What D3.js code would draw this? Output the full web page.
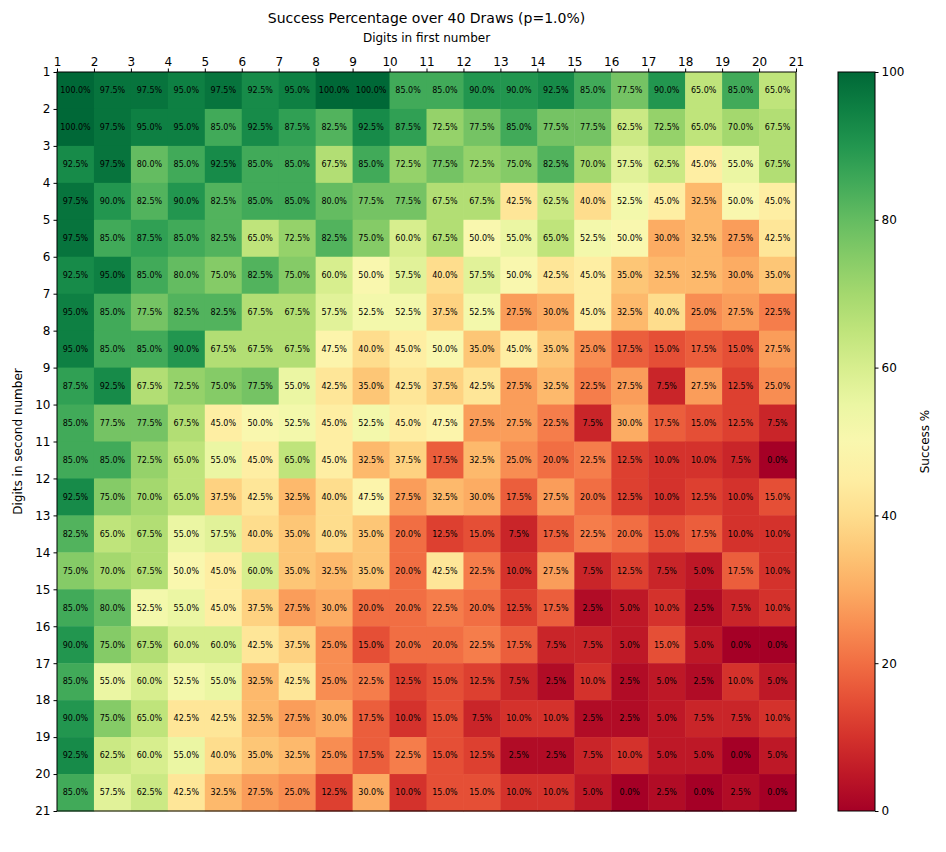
<!DOCTYPE html>
<html><head><meta charset="UTF-8">
<script src="https://d3js.org/d3.v7.min.js"></script>
<style>body{margin:0;font-family:"DejaVu Sans",sans-serif;background:#fff}</style>
</head><body><svg width="946" height="852"></svg>
<script>
const digits = d3.range(1, 21);
const ticks = d3.range(1, 22);
const success = [
[100.0,97.5,97.5,95.0,97.5,92.5,95.0,100.0,100.0,85.0,85.0,90.0,90.0,92.5,85.0,77.5,90.0,65.0,85.0,65.0],
[100.0,97.5,95.0,95.0,85.0,92.5,87.5,82.5,92.5,87.5,72.5,77.5,85.0,77.5,77.5,62.5,72.5,65.0,70.0,67.5],
[92.5,97.5,80.0,85.0,92.5,85.0,85.0,67.5,85.0,72.5,77.5,72.5,75.0,82.5,70.0,57.5,62.5,45.0,55.0,67.5],
[97.5,90.0,82.5,90.0,82.5,85.0,85.0,80.0,77.5,77.5,67.5,67.5,42.5,62.5,40.0,52.5,45.0,32.5,50.0,45.0],
[97.5,85.0,87.5,85.0,82.5,65.0,72.5,82.5,75.0,60.0,67.5,50.0,55.0,65.0,52.5,50.0,30.0,32.5,27.5,42.5],
[92.5,95.0,85.0,80.0,75.0,82.5,75.0,60.0,50.0,57.5,40.0,57.5,50.0,42.5,45.0,35.0,32.5,32.5,30.0,35.0],
[95.0,85.0,77.5,82.5,82.5,67.5,67.5,57.5,52.5,52.5,37.5,52.5,27.5,30.0,45.0,32.5,40.0,25.0,27.5,22.5],
[95.0,85.0,85.0,90.0,67.5,67.5,67.5,47.5,40.0,45.0,50.0,35.0,45.0,35.0,25.0,17.5,15.0,17.5,15.0,27.5],
[87.5,92.5,67.5,72.5,75.0,77.5,55.0,42.5,35.0,42.5,37.5,42.5,27.5,32.5,22.5,27.5,7.5,27.5,12.5,25.0],
[85.0,77.5,77.5,67.5,45.0,50.0,52.5,45.0,52.5,45.0,47.5,27.5,27.5,22.5,7.5,30.0,17.5,15.0,12.5,7.5],
[85.0,85.0,72.5,65.0,55.0,45.0,65.0,45.0,32.5,37.5,17.5,32.5,25.0,20.0,22.5,12.5,10.0,10.0,7.5,0.0],
[92.5,75.0,70.0,65.0,37.5,42.5,32.5,40.0,47.5,27.5,32.5,30.0,17.5,27.5,20.0,12.5,10.0,12.5,10.0,15.0],
[82.5,65.0,67.5,55.0,57.5,40.0,35.0,40.0,35.0,20.0,12.5,15.0,7.5,17.5,22.5,20.0,15.0,17.5,10.0,10.0],
[75.0,70.0,67.5,50.0,45.0,60.0,35.0,32.5,35.0,20.0,42.5,22.5,10.0,27.5,7.5,12.5,7.5,5.0,17.5,10.0],
[85.0,80.0,52.5,55.0,45.0,37.5,27.5,30.0,20.0,20.0,22.5,20.0,12.5,17.5,2.5,5.0,10.0,2.5,7.5,10.0],
[90.0,75.0,67.5,60.0,60.0,42.5,37.5,25.0,15.0,20.0,20.0,22.5,17.5,7.5,7.5,5.0,15.0,5.0,0.0,0.0],
[85.0,55.0,60.0,52.5,55.0,32.5,42.5,25.0,22.5,12.5,15.0,12.5,7.5,2.5,10.0,2.5,5.0,2.5,10.0,5.0],
[90.0,75.0,65.0,42.5,42.5,32.5,27.5,30.0,17.5,10.0,15.0,7.5,10.0,10.0,2.5,2.5,5.0,7.5,7.5,10.0],
[92.5,62.5,60.0,55.0,40.0,35.0,32.5,25.0,17.5,22.5,15.0,12.5,2.5,2.5,7.5,10.0,5.0,5.0,0.0,5.0],
[85.0,57.5,62.5,42.5,32.5,27.5,25.0,12.5,30.0,10.0,15.0,15.0,10.0,10.0,5.0,0.0,2.5,0.0,2.5,0.0]
];
const cbTicks = [0, 20, 40, 60, 80, 100];

const svg = d3.select("svg");
const L = 57, T = 72, S = 739;
const x = d3.scaleLinear().domain([1, 21]).range([L, L + S]);
const y = d3.scaleLinear().domain([1, 21]).range([T, T + S]);
const color = d3.scaleSequential(d3.interpolateRdYlGn).domain([0, 100]);

const cells = [];
success.forEach((row, i) => row.forEach((v, j) => cells.push({r: digits[i], c: digits[j], v})));
const cw = x(2) - x(1), ch = y(2) - y(1);
svg.append("g").selectAll("rect").data(cells).join("rect")
  .attr("x", d => x(d.c)).attr("y", d => y(d.r))
  .attr("width", cw + 0.5).attr("height", ch + 0.5)
  .attr("fill", d => color(d.v));
svg.append("g").selectAll("text").data(cells).join("text")
  .attr("x", d => x(d.c) + cw / 2).attr("y", d => y(d.r) + ch / 2)
  .attr("dy", "0.35em").attr("text-anchor", "middle")
  .attr("font-size", 8).text(d => d.v.toFixed(1) + "%");

svg.append("rect").attr("x", L).attr("y", T).attr("width", S).attr("height", S)
  .attr("fill", "none").attr("stroke", "#000");

const ax = svg.append("g").attr("transform", `translate(0,${T})`)
  .call(d3.axisTop(x).tickValues(ticks).tickFormat(d3.format("d")).tickSize(3.5));
const ay = svg.append("g").attr("transform", `translate(${L},0)`)
  .call(d3.axisLeft(y).tickValues(ticks).tickFormat(d3.format("d")).tickSize(3.5));
[ax, ay].forEach(a => { a.select(".domain").remove(); a.selectAll("text").attr("font-size", 12).attr("font-family", "DejaVu Sans"); });

svg.append("text").attr("x", L + S / 2).attr("y", 23).attr("text-anchor", "middle")
  .attr("font-size", 14).text("Success Percentage over 40 Draws (p=1.0%)");
svg.append("text").attr("x", L + S / 2).attr("y", 42).attr("text-anchor", "middle")
  .attr("font-size", 12).text("Digits in first number");
svg.append("text").attr("transform", `translate(22,${T + S / 2}) rotate(-90)`)
  .attr("text-anchor", "middle").attr("font-size", 12).text("Digits in second number");

// colorbar
const cbX = 838, cbW = 37;
const cy = d3.scaleLinear().domain([0, 100]).range([T + S, T]);
const defs = svg.append("defs");
const grad = defs.append("linearGradient").attr("id", "cb").attr("x1", 0).attr("y1", 1).attr("x2", 0).attr("y2", 0);
d3.range(0, 1.0001, 0.05).forEach(t => grad.append("stop").attr("offset", t).attr("stop-color", color(t * 100)));
svg.append("rect").attr("x", cbX).attr("y", T).attr("width", cbW).attr("height", S)
  .attr("fill", "url(#cb)").attr("stroke", "#000");
const ac = svg.append("g").attr("transform", `translate(${cbX + cbW},0)`)
  .call(d3.axisRight(cy).tickValues(cbTicks).tickSize(3.5));
ac.select(".domain").remove();
ac.selectAll("text").attr("font-size", 12).attr("font-family", "DejaVu Sans");
svg.append("text").attr("transform", `translate(929,${T + S / 2}) rotate(-90)`)
  .attr("text-anchor", "middle").attr("font-size", 12).text("Success %");
</script></body></html>
